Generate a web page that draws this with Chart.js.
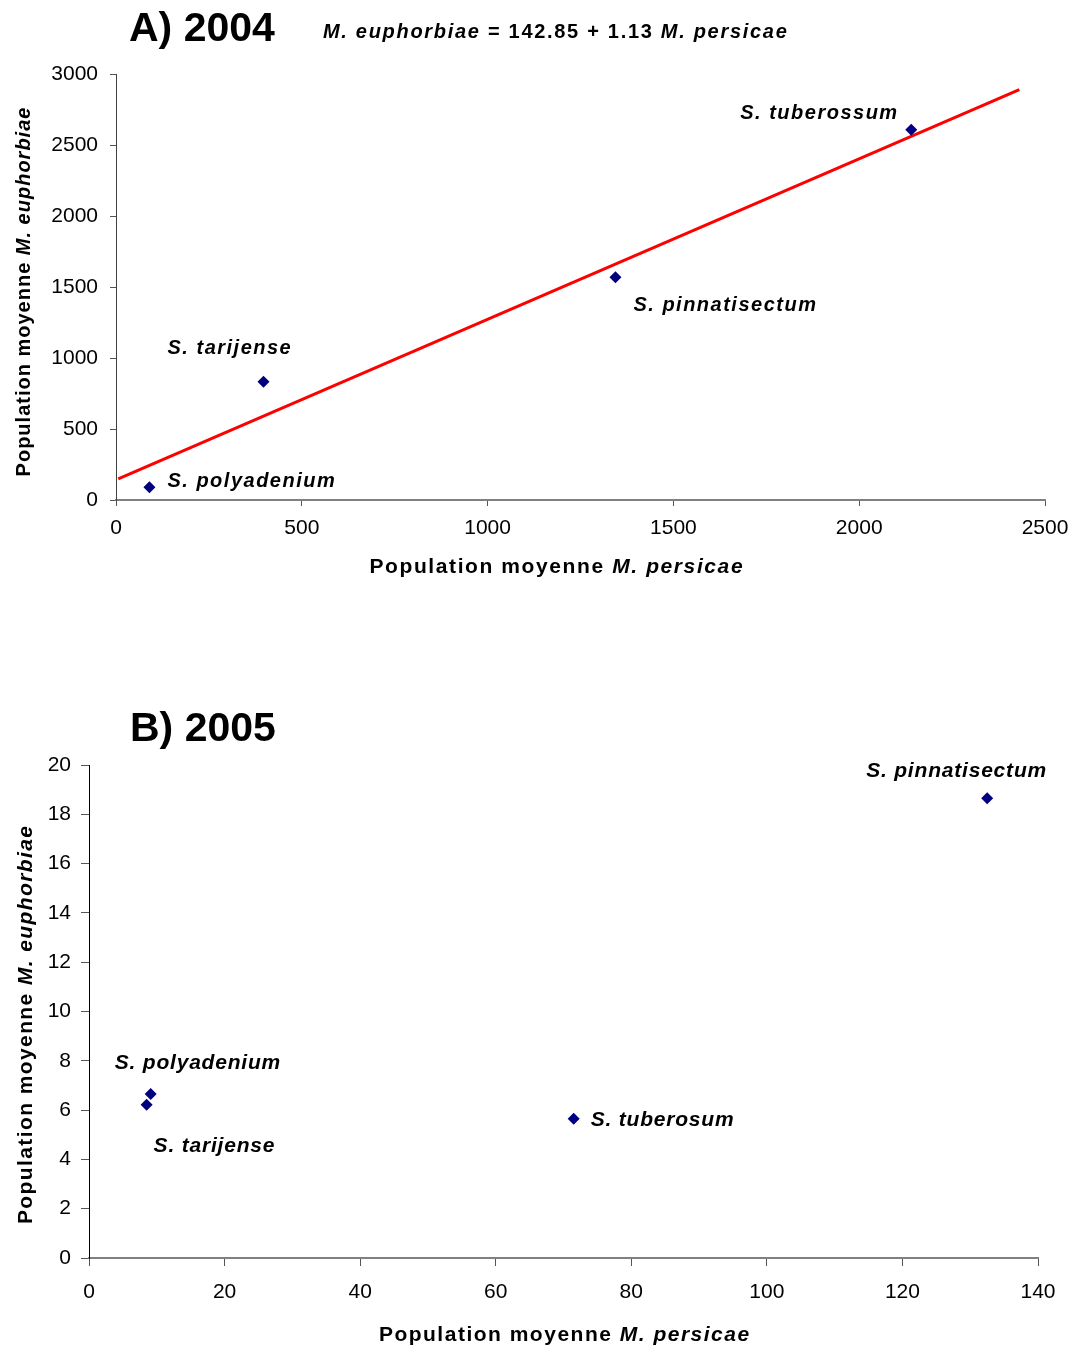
<!DOCTYPE html>
<html>
<head>
<meta charset="utf-8">
<script src="https://cdn.jsdelivr.net/npm/chart.js@4/dist/chart.umd.min.js"></script>
<style>
  html, body { margin: 0; padding: 0; background: #fff; }
  .panel { position: absolute; left: 0; width: 1076px; }
  #panelA { top: 0; height: 600px; }
  #panelB { top: 690px; height: 656px; }
</style>
</head>
<body>
<div class="panel" id="panelA"><canvas id="chartA"></canvas></div>
<div class="panel" id="panelB"><canvas id="chartB"></canvas></div>
<script>
// ---- 2004 : mean populations per host species ----
const species2004    = ['S. polyadenium', 'S. tarijense', 'S. pinnatisectum', 'S. tuberossum'];
const persicae2004   = [90, 397, 1344, 2140];
const euphorbiae2004 = [89, 833, 1568, 2608];
const xTicks2004 = [0, 500, 1000, 1500, 2000, 2500];
const yTicks2004 = [0, 500, 1000, 1500, 2000, 2500, 3000];
// fitted regression line: M. euphorbiae = 142.85 + 1.13 M. persicae
const fitIntercept2004 = 142.85;
const fitSlope2004 = 1.13;
const fitRange2004 = [6, 2431];

// ---- 2005 ----
const species2005    = ['S. polyadenium', 'S. tarijense', 'S. tuberosum', 'S. pinnatisectum'];
const persicae2005   = [9.1, 8.5, 71.5, 132.5];
const euphorbiae2005 = [6.65, 6.22, 5.65, 18.65];
const xTicks2005 = [0, 20, 40, 60, 80, 100, 120, 140];
const yTicks2005 = [0, 2, 4, 6, 8, 10, 12, 14, 16, 18, 20];

// label placement relative to each point: [dx to left edge, dy to cap centre]
const labelOffsets2004 = [[18, -8], [-96, -35], [18, 26], [-171, -18]];
const labelOffsets2005 = [[-36, -33], [7, 40], [17, 0], [-121, -29]];

const FAMILY = '"Liberation Sans", Arial, sans-serif';
const MARKER = '#000080';

function fontStr(run, size) {
  return (run.italic ? 'italic ' : '') + (run.bold === false ? '' : 'bold ') + size + 'px ' + FAMILY;
}

// draws a sequence of text runs, positioned by the vertical centre of capitals
function drawRuns(ctx, runs, x, capCenter, align, size, spacing) {
  ctx.save();
  ctx.letterSpacing = spacing + 'px';
  ctx.textBaseline = 'alphabetic';
  ctx.textAlign = 'left';
  ctx.fillStyle = '#000';
  const widths = runs.map(r => { ctx.font = fontStr(r, size); return ctx.measureText(r.text).width; });
  const total = widths.reduce((a, b) => a + b, 0) - spacing;
  let cx = align === 'center' ? x - total / 2 : x;
  const base = capCenter + 0.358 * size;
  runs.forEach((r, i) => {
    ctx.font = fontStr(r, size);
    ctx.fillText(r.text, cx, base);
    cx += widths[i];
  });
  ctx.restore();
}

function drawRotated(ctx, runs, cx, cy, size, spacing) {
  ctx.save();
  ctx.translate(cx, cy);
  ctx.rotate(-Math.PI / 2);
  drawRuns(ctx, runs, 0, 0, 'center', size, spacing);
  ctx.restore();
}

// per-chart text decorations: panel title, axis titles, point labels
function textPlugin(cfg) {
  return {
    id: 'panelText',
    afterDraw(chart) {
      const ctx = chart.ctx;
      drawRuns(ctx, [{ text: cfg.title }], cfg.titlePos[0], cfg.titlePos[1], 'left', 41, 0);
      if (cfg.equation) {
        drawRuns(ctx, cfg.equation, cfg.equationPos[0], cfg.equationPos[1], 'left', 20, 1.7);
      }
      drawRuns(ctx, [{ text: 'Population moyenne ' }, { text: 'M. persicae', italic: true }],
        cfg.xTitlePos[0], cfg.xTitlePos[1], 'center', 21, cfg.xTitleSpacing);
      drawRotated(ctx, [{ text: 'Population moyenne ' }, { text: 'M. euphorbiae', italic: true }],
        cfg.yTitlePos[0], cfg.yTitlePos[1], cfg.yTitleSize, cfg.yTitleSpacing);
      const meta = chart.getDatasetMeta(0);
      meta.data.forEach((pt, i) => {
        const off = cfg.offsets[i];
        drawRuns(ctx, [{ text: cfg.names[i], italic: true }], pt.x + off[0], pt.y + off[1], 'left',
          cfg.labelSize, cfg.labelSpacing);
      });
    }
  };
}

function axis(min, max, tickList, tickLen, pad, borderColor, borderWidth, fitFn) {
  return {
    type: 'linear',
    min: min,
    max: max,
    afterBuildTicks(scale) { scale.ticks = tickList.map(v => ({ value: v })); },
    afterFit: fitFn,
    ticks: {
      color: '#000',
      font: { family: FAMILY, size: 21 },
      padding: pad,
      autoSkip: false,
      callback: v => String(v)
    },
    grid: { drawOnChartArea: false, drawTicks: true, tickLength: tickLen, tickColor: '#555', tickWidth: 1 },
    border: { display: true, color: borderColor, width: borderWidth }
  };
}

function scatterSet(xs, ys) {
  return {
    type: 'scatter',
    data: xs.map((x, i) => ({ x: x, y: ys[i] })),
    pointStyle: 'rectRot',
    pointRadius: 6,
    pointHoverRadius: 6,
    backgroundColor: MARKER,
    borderColor: MARKER,
    borderWidth: 0
  };
}

const common = {
  animation: false,
  responsive: true,
  maintainAspectRatio: false,
  devicePixelRatio: 1,
  plugins: { legend: { display: false }, tooltip: { enabled: false } }
};

// ---- panel A ----
new Chart(document.getElementById('chartA'), {
  data: {
    datasets: [
      scatterSet(persicae2004, euphorbiae2004),
      {
        type: 'line',
        data: fitRange2004.map(x => ({ x: x, y: fitIntercept2004 + fitSlope2004 * x })),
        borderColor: '#FF0000',
        borderWidth: 3,
        pointRadius: 0,
        fill: false
      }
    ]
  },
  options: Object.assign({}, common, {
    layout: { padding: { top: 74, right: 31, left: 0, bottom: 0 } },
    scales: {
      x: axis(0, 2500, xTicks2004, 6, 10, '#808080', 2, s => { s.height = 100; s.paddingLeft = 0; s.paddingRight = 0; }),
      y: axis(0, 3000, yTicks2004, 6, 12, '#404040', 1, s => { s.width = 116; s.paddingTop = 0; s.paddingBottom = 0; })
    }
  }),
  plugins: [textPlugin({
    title: 'A) 2004', titlePos: [129, 26],
    equation: [
      { text: 'M. euphorbiae', italic: true },
      { text: ' = 142.85 + 1.13 ' },
      { text: 'M. persicae', italic: true }
    ],
    equationPos: [323, 31],
    xTitlePos: [556, 565], xTitleSpacing: 1.6,
    yTitlePos: [23, 292], yTitleSize: 20, yTitleSpacing: 1.0,
    names: species2004, offsets: labelOffsets2004, labelSize: 20, labelSpacing: 1.5
  })]
});

// ---- panel B ----
new Chart(document.getElementById('chartB'), {
  data: { datasets: [scatterSet(persicae2005, euphorbiae2005)] },
  options: Object.assign({}, common, {
    layout: { padding: { top: 75, right: 38, left: 0, bottom: 0 } },
    scales: {
      x: axis(0, 140, xTicks2005, 8, 14, '#808080', 2, s => { s.height = 88; s.paddingLeft = 0; s.paddingRight = 0; }),
      y: axis(0, 20, yTicks2005, 8, 10, '#000', 1, s => { s.width = 89; s.paddingTop = 0; s.paddingBottom = 0; })
    }
  }),
  plugins: [textPlugin({
    title: 'B) 2005', titlePos: [130, 36],
    xTitlePos: [564, 643], xTitleSpacing: 1.5,
    yTitlePos: [24, 335], yTitleSize: 21, yTitleSpacing: 1.4,
    names: species2005, offsets: labelOffsets2005, labelSize: 21, labelSpacing: 0.8
  })]
});
</script>
</body>
</html>
